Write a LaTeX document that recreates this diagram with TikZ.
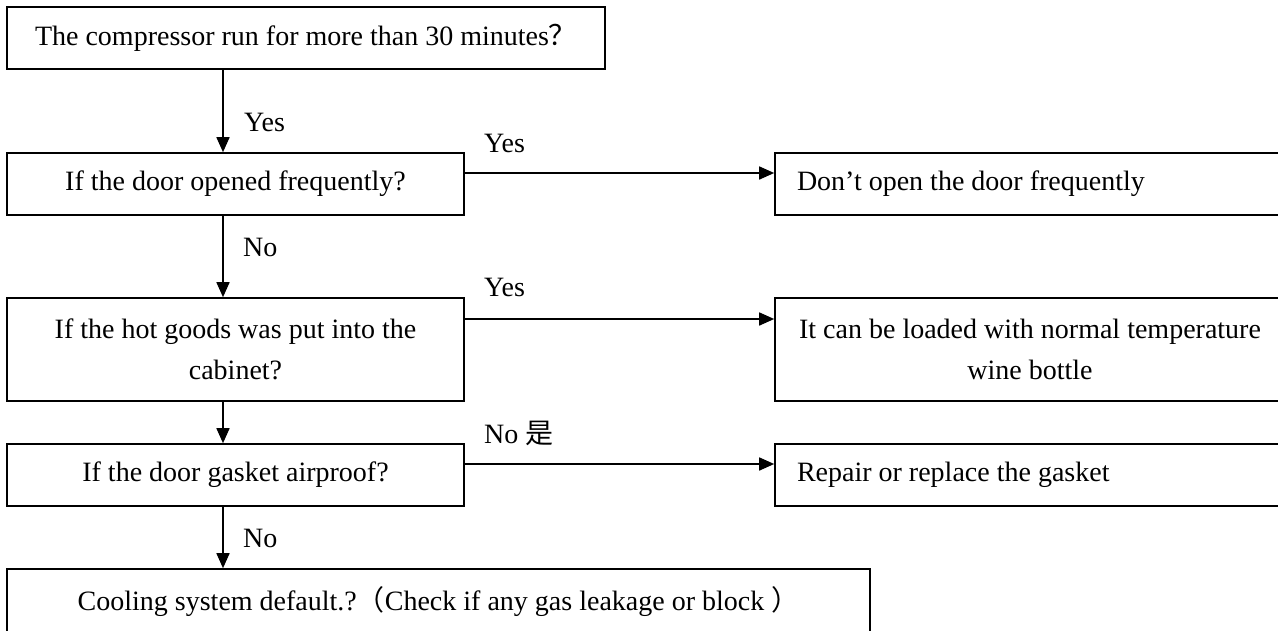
\documentclass[tikz,border=0pt]{standalone}
\usepackage{fontspec}
\setmainfont{Liberation Serif}
\newfontfamily\cjk{Noto Sans CJK SC}
\usetikzlibrary{arrows.meta}
\tikzset{
  box/.style={draw, line width=1.6pt, inner sep=0pt, minimum height=62pt, font=\fontsize{28}{41}\selectfont, align=center},
  lbl/.style={anchor=west, inner sep=0pt, font=\fontsize{28}{34}\selectfont},
  conn/.style={line width=1.6pt, -{Triangle[length=15pt,width=13pt]}}
}
\newcommand{\mylefttext}[1]{\makebox[466pt][l]{#1}}
\begin{document}
\begin{tikzpicture}[x=1pt,y=-1pt]
\useasboundingbox (0,0) rectangle (1278,630);
\clip (0,0) rectangle (1278,630);
\fill[white] (0,0) rectangle (1278,630);
\node[box, minimum width=598pt] (b1) at (306,38) {The compressor run for more than 30 minutes{\cjk ？}};
\node[box, minimum width=457pt] (b2) at (235.5,184) {If the door opened frequently?};
\node[box, minimum width=457pt, minimum height=103pt] (b3) at (235.5,349.5) {If the hot goods was put into the\\cabinet?};
\node[box, minimum width=457pt] (b4) at (235.5,475) {If the door gasket airproof?};
\node[box, minimum width=863pt, minimum height=66pt] (b5) at (438.5,602) {Cooling system default.?{\cjk （}Check if any gas leakage or block {\cjk ）}};
\node[box, minimum width=510pt] (r1) at (1030,184) {\mylefttext{Don’t open the door frequently}};
\node[box, minimum width=510pt, minimum height=103pt] (r2) at (1030,349.5) {It can be loaded with normal temperature\\wine bottle};
\node[box, minimum width=510pt] (r3) at (1030,475) {\mylefttext{Repair or replace the gasket}};
\coordinate (ax) at (223,0);
\coordinate (h1) at (0,173);
\coordinate (h2) at (0,319);
\coordinate (h3) at (0,464);
\draw[conn] (b1.south -| ax) -- (b2.north -| ax);
\draw[conn] (b2.south -| ax) -- (b3.north -| ax);
\draw[conn] (b3.south -| ax) -- (b4.north -| ax);
\draw[conn] (b4.south -| ax) -- (b5.north -| ax);
\draw[conn] (b2.east |- h1) -- (r1.west |- h1);
\draw[conn] (b3.east |- h2) -- (r2.west |- h2);
\draw[conn] (b4.east |- h3) -- (r3.west |- h3);
\node[lbl] (l1) at (244,122) {Yes};
\node[lbl] (l2) at (243,247) {No};
\node[lbl] (l3) at (243,538) {No};
\node[lbl] (l4) at (484,143) {Yes};
\node[lbl] (l5) at (484,287) {Yes};
\node[lbl] (l6) at (484,433) {No {\cjk 是}};
\end{tikzpicture}
\end{document}
